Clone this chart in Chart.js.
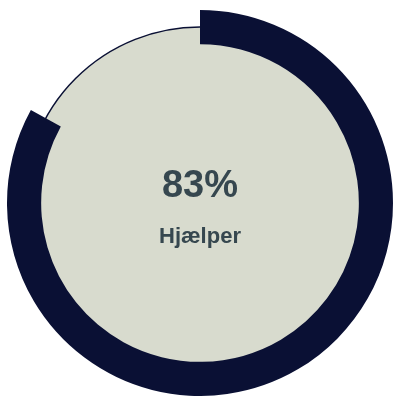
<!DOCTYPE html>
<html>
<head>
<meta charset="utf-8">
<script src="https://cdn.jsdelivr.net/npm/chart.js@4/dist/chart.umd.min.js"></script>
<style>
  html, body { margin: 0; padding: 0; background: #ffffff; }
  #wrap { width: 396px; height: 396px; }
</style>
</head>
<body>
<div id="wrap"><canvas id="gauge"></canvas></div>
<script>
// share that "helps" vs the rest
const labels = ["Hjælper", ""];
const values = [83, 17];
const caption = "Hjælper";

const ringColor = "#0a1034";
const discColor = "#d8dbce";
const textColor = "#36474f";

// light disc behind the ring, with a thin dark outline
const discPlugin = {
  id: "disc",
  beforeDatasetsDraw(chart) {
    const arc = chart.getDatasetMeta(0).data[0];
    if (!arc) return;
    const ctx = chart.ctx;
    ctx.save();
    ctx.beginPath();
    ctx.arc(arc.x, arc.y, arc.outerRadius * 0.912, 0, Math.PI * 2);
    ctx.fillStyle = discColor;
    ctx.fill();
    ctx.lineWidth = 1.5;
    ctx.strokeStyle = ringColor;
    ctx.stroke();
    ctx.restore();
  },
};

// percentage and caption in the middle
const centerText = {
  id: "centerText",
  afterDatasetsDraw(chart) {
    const arc = chart.getDatasetMeta(0).data[0];
    if (!arc) return;
    const total = values.reduce((a, b) => a + b, 0);
    const pct = Math.round((values[0] / total) * 100);
    const ctx = chart.ctx;
    ctx.save();
    ctx.fillStyle = textColor;
    ctx.textAlign = "center";
    ctx.textBaseline = "alphabetic";
    ctx.font = "bold 38px 'Liberation Sans', Arial, sans-serif";
    ctx.fillText(pct + "%", arc.x, arc.y - 6);
    ctx.font = "bold 22px 'Liberation Sans', Arial, sans-serif";
    ctx.fillText(caption, arc.x, arc.y + 40);
    ctx.restore();
  },
};

new Chart(document.getElementById("gauge"), {
  type: "doughnut",
  data: {
    labels: labels,
    datasets: [
      {
        data: values,
        backgroundColor: [ringColor, "rgba(0,0,0,0)"],
        borderWidth: 0,
        hoverOffset: 0,
      },
    ],
  },
  options: {
    responsive: true,
    maintainAspectRatio: false,
    animation: false,
    cutout: "82.3%",
    layout: { padding: { left: 7, right: 3, top: 10, bottom: 0 } },
    plugins: {
      legend: { display: false },
      tooltip: { enabled: false },
    },
  },
  plugins: [discPlugin, centerText],
});
</script>
</body>
</html>
